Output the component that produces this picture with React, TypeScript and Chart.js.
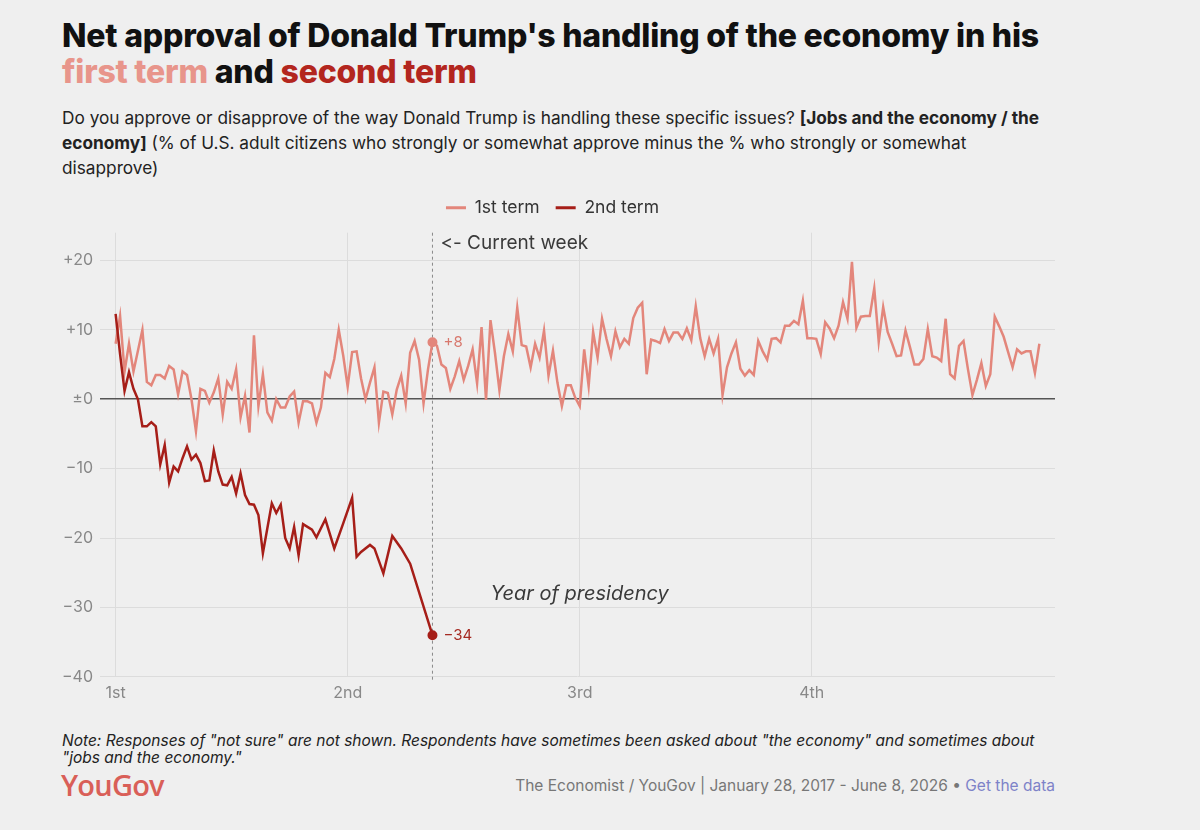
import React, { useEffect, useRef } from "react";
import { Chart, registerables } from "chart.js";

Chart.register(...registerables);

// ---------- data ----------
const YEAR_TICKS = [0, 52, 104, 156]; // weeks into term
const YEAR_LABELS = ["1st", "2nd", "3rd", "4th"];
const Y_TICKS = [-40, -30, -20, -10, 0, 10, 20];

// First term, weekly net approval (week 0 .. 207)
const TERM1_VALUES = [
  8, 12, 4, 8, 4, 7, 10, 2.5, 2, 3.5,
  3.5, 3, 4.8, 4.3, 0.7, 4, 3.5, 0, -4.6, 1.5,
  1.2, -0.5, 1, 3, -2.2, 2.5, 1.5, 4.3, -2.6, 0.5,
  -4.8, 9.2, -1, 3.6, -1.9, -3.1, 0, -1.2, -1.2, 0.4,
  1.1, -3.4, -0.3, -0.3, -0.6, -3.4, -1.2, 3.8, 3.2, 5.8,
  10, 6.3, 1.8, 6.8, 6.9, 3, 0, 2.4, 4.6, -3.4,
  1.1, 0.9, -2.2, 1.4, 3.4, -0.6, 6.7, 8.4, 5.7, -0.6,
  4.3, 8.2, 7.7, 5, 4.5, 1.5, 3.3, 5.5, 2.8, 4.8,
  7.2, 2.3, 10.4, -0.1, 11.4, 6.7, 1.3, 6.2, 9.4, 6.9,
  13.2, 7.8, 7.6, 4.6, 8, 6, 9.9, 3.4, 7, 2.4,
  -1, 2, 2, 0.2, -1, 7.2, 1.9, 9.7, 6, 11.6,
  8.7, 6.2, 9.8, 7.5, 8.7, 8, 11.7, 13.2, 13.9, 3.6,
  8.6, 8.4, 8.1, 10.1, 8.4, 9.6, 9.6, 8.7, 10.2, 8.5,
  13.4, 8.8, 6.2, 8.7, 6.6, 8.7, 0.6, 4.6, 6.6, 8.2,
  4.4, 3.4, 4.2, 3.5, 8.4, 6.9, 5.7, 8.7, 8.8, 8.2,
  10.6, 10.6, 11.3, 10.8, 14.2, 8.8, 8.8, 8.7, 6.5, 11.1,
  10.2, 8.8, 10.6, 14, 11.6, 19.8, 10.3, 11.9, 12, 12,
  16, 8.3, 13.3, 9.7, 8, 6.2, 6.3, 9.9, 7.5, 5,
  5, 5.8, 10.1, 6.2, 6, 5.5, 11.6, 3.6, 3, 7.7,
  8.4, 4.3, 0.6, 2.8, 5.2, 1.9, 3.6, 11.9, 10.5, 9,
  6.8, 4.6, 7.2, 6.6, 6.9, 6.9, 3.8, 8,
];

// Second term, weeks into term and net approval
const TERM2_WEEKS = [
  0, 1, 2, 3, 4, 5, 6, 7, 8, 9,
  10, 11, 12, 13, 14, 15, 16, 17, 18, 19,
  20, 21, 22, 23, 24, 25, 26, 27, 28, 29,
  30, 31, 32, 33, 34, 35, 36, 37, 38, 39,
  40, 41, 42, 44, 45, 47, 49, 51, 53, 54,
  55, 57, 58, 60, 62, 64, 66, 71,
];
const TERM2_VALUES = [
  12.3, 6.5, 1.2, 3.9, 1.5, 0, -3.9, -3.9, -3.3, -3.9,
  -9.4, -6.6, -12, -9.7, -10.4, -8.5, -6.8, -8.7, -8, -9.2,
  -11.8, -11.7, -7.4, -10.4, -12.3, -12.4, -11.2, -13.6, -10.7, -13.8,
  -15.1, -15.2, -16.7, -22.2, -18.6, -15, -16.4, -15.2, -20, -21.5,
  -18.4, -22.5, -18, -18.8, -19.9, -17.3, -21.5, -17.9, -14.2, -22.7,
  -22, -21, -21.5, -25.1, -19.7, -21.5, -23.7, -34,
];

const CURRENT_WEEK = 71;
const SERIES_NAMES = ["1st term", "2nd term"];
const CURRENT_LABEL = "<\u200C- Current week";
const AXIS_TITLE = "Year of presidency";
const AXIS_TITLE_AT = { week: 84, value: -28 };

// ---------- styles ----------
const C_TERM1 = "#e3867b";
const C_TERM2 = "#a61e18";
const FONT = "Inter, 'Noto Sans', sans-serif";

function fmtValue(v: number): string {
  const r = Math.round(v);
  if (r > 0) return "+" + r;
  if (r < 0) return "\u2212" + Math.abs(r);
  return "\u00b10";
}

const annotationPlugin = {
  id: "annotations",
  beforeDatasetsDraw(chart: any) {
    const { ctx, chartArea, scales } = chart;
    const x = scales.x.getPixelForValue(CURRENT_WEEK);
    ctx.save();
    ctx.strokeStyle = "#8a8a8a";
    ctx.lineWidth = 1;
    ctx.setLineDash([3, 3]);
    ctx.beginPath();
    ctx.moveTo(x, chartArea.top);
    ctx.lineTo(x, chartArea.bottom + 4);
    ctx.stroke();
    ctx.restore();
  },
  afterDatasetsDraw(chart: any) {
    const { ctx, chartArea, scales } = chart;
    const x = scales.x.getPixelForValue(CURRENT_WEEK);
    ctx.save();
    ctx.font = `19px ${FONT}`;
    ctx.fillStyle = "#3a3a3a";
    ctx.textAlign = "left";
    ctx.textBaseline = "middle";
    ctx.fillText(CURRENT_LABEL, x + 8, chartArea.top + 11);

    ctx.font = `italic 20px ${FONT}`;
    ctx.fillStyle = "#3a3a3a";
    ctx.fillText(
      AXIS_TITLE,
      scales.x.getPixelForValue(AXIS_TITLE_AT.week),
      scales.y.getPixelForValue(AXIS_TITLE_AT.value)
    );

    const m1 = chart.getDatasetMeta(0);
    const m2 = chart.getDatasetMeta(1);
    const p1 = m1.data[CURRENT_WEEK];
    const p2 = m2.data[m2.data.length - 1];
    ctx.font = `15px ${FONT}`;
    if (p1) {
      ctx.fillStyle = "#d8786d";
      ctx.fillText(fmtValue(TERM1_VALUES[CURRENT_WEEK]), p1.x + 11, p1.y);
    }
    if (p2) {
      ctx.fillStyle = "#a52a22";
      ctx.fillText(fmtValue(TERM2_VALUES[TERM2_VALUES.length - 1]), p2.x + 11, p2.y);
    }
    ctx.restore();
  },
};

function ChartCanvas() {
  const ref = useRef<HTMLCanvasElement | null>(null);
  useEffect(() => {
    if (!ref.current) return;
    Chart.defaults.font.family = FONT;
    const chart = new Chart(ref.current, {
      type: "line",
      data: {
        datasets: [
          {
            label: SERIES_NAMES[0],
            data: TERM1_VALUES.map((v, i) => ({ x: i, y: v })),
            borderColor: C_TERM1,
            backgroundColor: C_TERM1,
            borderWidth: 2.5,
            pointRadius: (c: any) => (c.dataIndex === CURRENT_WEEK ? 3.5 : 0),
            pointHoverRadius: 0,
            pointBorderWidth: 3,
            tension: 0,
            order: 1,
          },
          {
            label: SERIES_NAMES[1],
            data: TERM2_WEEKS.map((w, i) => ({ x: w, y: TERM2_VALUES[i] })),
            borderColor: C_TERM2,
            backgroundColor: C_TERM2,
            borderWidth: 2.5,
            pointRadius: (c: any) => (c.dataIndex === TERM2_WEEKS.length - 1 ? 3.5 : 0),
            pointHoverRadius: 0,
            pointBorderWidth: 3,
            tension: 0,
            order: 0,
          },
        ],
      },
      options: {
        animation: false,
        responsive: true,
        maintainAspectRatio: false,
        layout: { padding: { left: 50, right: 145, top: 0, bottom: 8 } },
        plugins: {
          legend: {
            position: "top",
            align: "center",
            labels: {
              usePointStyle: true,
              pointStyle: "line",
              pointStyleWidth: 20,
              boxHeight: 17,
              padding: 16,
              color: "#333",
              font: { size: 17.5, family: FONT },
              sort: (a: any, b: any) => a.datasetIndex - b.datasetIndex,
            },
          },
          subtitle: {
            display: true,
            text: "",
            weight: 0,
            font: { size: 1 },
            padding: { top: 2, bottom: 3 },
          },
          tooltip: { enabled: false },
        },
        scales: {
          x: {
            type: "linear",
            min: -3.5,
            max: 210.5,
            afterBuildTicks: (s: any) => {
              s.ticks = YEAR_TICKS.map((v) => ({ value: v }));
            },
            ticks: {
              callback: (v: any) => {
                const i = YEAR_TICKS.indexOf(Number(v));
                return i >= 0 ? YEAR_LABELS[i] : "";
              },
              color: "#888",
              font: { size: 16, family: FONT },
              padding: 7,
              maxRotation: 0,
            },
            grid: { color: "#dcdcdc", lineWidth: 1, drawTicks: false },
            border: { display: false },
          },
          y: {
            type: "linear",
            min: -40,
            max: 24,
            afterBuildTicks: (s: any) => {
              s.ticks = Y_TICKS.map((v) => ({ value: v }));
            },
            afterFit: (s: any) => {
              s.width = 50;
            },
            ticks: {
              callback: (v: any) => fmtValue(Number(v)),
              color: "#888",
              font: { size: 16, family: FONT },
              padding: 7,
            },
            grid: {
              color: (c: any) => (c.tick && c.tick.value === 0 ? "#555" : "#dcdcdc"),
              lineWidth: (c: any) => (c.tick && c.tick.value === 0 ? 1.5 : 1),
              drawTicks: false,
            },
            border: { display: false },
          },
        },
      },
      plugins: [annotationPlugin],
    });
    return () => chart.destroy();
  }, []);
  return <canvas ref={ref} />;
}

export default function App() {
  return (
    <div
      style={{
        position: "fixed",
        left: 0,
        top: 0,
        width: 1200,
        height: 830,
        background: "#efefef",
        fontFamily: FONT,
        color: "#111",
        overflow: "hidden",
      }}
    >
      <div
        style={{
          position: "absolute",
          left: 62,
          top: 18,
          fontSize: 32,
          fontWeight: 800,
          lineHeight: "36px",
          letterSpacing: -0.2,
          whiteSpace: "nowrap",
          color: "#111",
        }}
      >
        Net approval of Donald Trump's handling of the economy in his
        <br />
        <span style={{ color: "#e8958b" }}>first term</span> and{" "}
        <span style={{ color: "#b3261e" }}>second term</span>
      </div>
      <div
        style={{
          position: "absolute",
          left: 62,
          top: 105,
          fontSize: 17.25,
          lineHeight: "25px",
          whiteSpace: "nowrap",
          color: "#222",
        }}
      >
        Do you approve or disapprove of the way Donald Trump is handling these specific issues?{" "}
        <b>[Jobs and the economy / the</b>
        <br />
        <b>economy]</b> (% of U.S. adult citizens who strongly or somewhat approve minus the % who strongly or somewhat
        <br />
        disapprove)
      </div>
      <div style={{ position: "absolute", left: 0, top: 183, width: 1200, height: 535 }}>
        <ChartCanvas />
      </div>
      <div
        style={{
          position: "absolute",
          left: 62,
          top: 732,
          fontSize: 15.5,
          fontStyle: "italic",
          lineHeight: "17px",
          whiteSpace: "nowrap",
          color: "#222",
        }}
      >
        Note: Responses of "not sure" are not shown. Respondents have sometimes been asked about "the economy" and sometimes about
        <br />
        "jobs and the economy."
      </div>
      <div
        style={{
          position: "absolute",
          left: 61,
          top: 767,
          fontSize: 29,
          fontWeight: 600,
          letterSpacing: -0.8,
          color: "#d95f58",
          fontFamily: "'Open Sans', sans-serif",
          lineHeight: "36px",
        }}
      >
        YouGov
      </div>
      <div
        style={{
          position: "absolute",
          right: 1200 - 1055,
          top: 776,
          fontSize: 15.5,
          lineHeight: "20px",
          color: "#777",
          whiteSpace: "nowrap",
        }}
      >
        The Economist / YouGov | January 28, 2017 - June 8, 2026 •{" "}
        <span style={{ color: "#7d82c8" }}>Get the data</span>
      </div>
    </div>
  );
}
